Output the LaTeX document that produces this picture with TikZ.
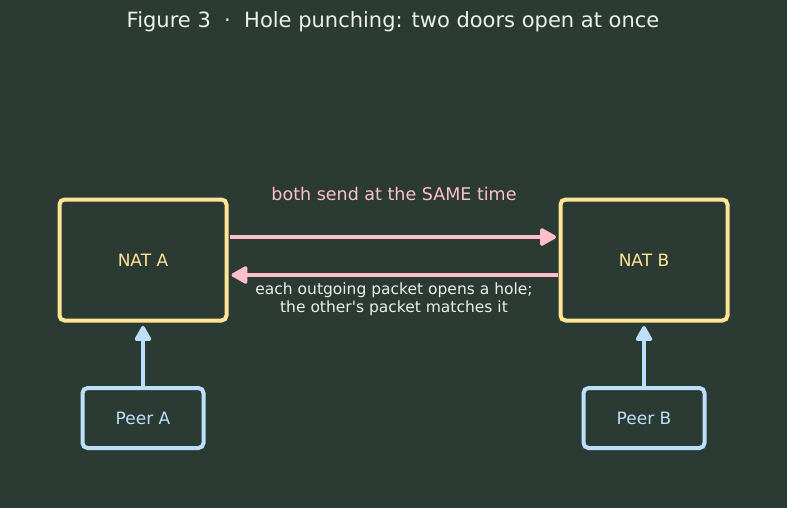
\documentclass[tikz,border=0pt]{standalone}
\usepackage{fontspec}
\newfontfamily\dv{DejaVu Sans}
\usetikzlibrary{arrows.meta}
\definecolor{bg}{HTML}{2B3B34}
\definecolor{natc}{HTML}{FFE595}
\definecolor{pinkc}{HTML}{FFC0CB}
\definecolor{peerc}{HTML}{BDE0FA}
\definecolor{titlec}{HTML}{ECF0EC}
\begin{document}
\begin{tikzpicture}[x=1pt,y=-1pt,
  natbox/.style={draw=natc,line width=4pt,rounded corners=5pt,fill=bg,minimum width=167pt,minimum height=121pt,inner sep=0pt,text=natc,font=\dv\fontsize{17}{20}\selectfont},
  peerbox/.style={draw=peerc,line width=4pt,rounded corners=5pt,fill=bg,minimum width=121pt,minimum height=60pt,inner sep=0pt,text=peerc,font=\dv\fontsize{17}{20}\selectfont},
  pinkarrow/.style={draw=pinkc,line width=3.6pt,-{Triangle[length=18pt,width=19pt,round]}},
  peerarrow/.style={draw=peerc,line width=3.6pt,-{Triangle[length=17pt,width=18pt,round]}},
  lbl/.style={inner sep=0pt,align=center}]
\fill[bg] (0,0) rectangle (787,508);
\useasboundingbox (0,0) rectangle (787,508);
\node[lbl,text=titlec,font=\dv\fontsize{21}{25}\selectfont] (title) at (393,22) {Figure 3\ \ ·\ \ Hole punching: two doors open at once};
\node[natbox] (nata) at (143,260) {NAT A};
\node[natbox] (natb) at (644,260) {NAT B};
\node[peerbox] (peera) at (143,418) {Peer A};
\node[peerbox] (peerb) at (644,418) {Peer B};
\coordinate (a1) at (229.5,237);
\coordinate (b1) at (556,237);
\coordinate (b2) at (557.5,275);
\coordinate (a2) at (231.5,275);
\draw[pinkarrow] (a1) -- (b1);
\draw[pinkarrow] (b2) -- (a2);
\draw[peerarrow] (peera.north) -- ([yshift=-3.5pt]nata.south);
\draw[peerarrow] (peerb.north) -- ([yshift=-3.5pt]natb.south);
\node[lbl,text=pinkc,font=\dv\fontsize{17.5}{21}\selectfont] (top) at (394,194) {both send at the SAME time};
\node[lbl,text=titlec,font=\dv\fontsize{15.5}{17.5}\selectfont] (bot) at (394,299) {each outgoing packet opens a hole;\\the other's packet matches it};
\end{tikzpicture}
\end{document}
